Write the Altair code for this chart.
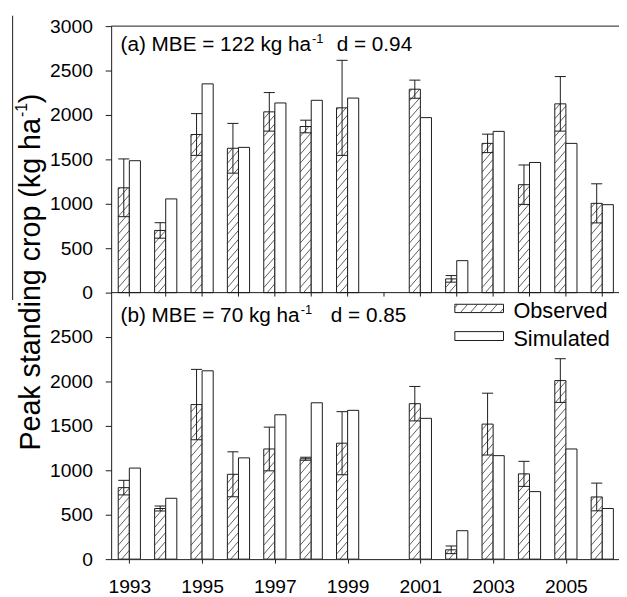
import altair as alt
import pandas as pd
import numpy as np

# ---------------- data ----------------
years = [1993, 1994, 1995, 1996, 1997, 1998, 1999, 2001, 2002, 2003, 2004, 2005, 2006]

obs_a = [1180, 700, 1780, 1625, 2035, 1870, 2080, 2290, 155, 1680, 1215, 2125, 1005]
sd_a = [325, 87, 235, 280, 217, 71, 535, 102, 37, 104, 222, 307, 220]
sim_a = [1485, 1055, 2350, 1635, 2135, 2165, 2190, 1970, 360, 1815, 1465, 1680, 990]

obs_b = [805, 570, 1740, 955, 1240, 1130, 1305, 1750, 105, 1520, 960, 2010, 700]
sd_b = [82, 28, 396, 253, 246, 17, 355, 194, 43, 348, 141, 246, 156]
sim_b = [1025, 685, 2120, 1140, 1625, 1760, 1675, 1585, 320, 1165, 760, 1240, 570]

tick_years = list(range(1993, 2007))
y_ticks = list(range(0, 6001, 500))

# ---------------- layout ----------------
FONT = "Liberation Sans"
X0, X1 = 1992.5, 2006.46
W, H = 514.5, 540
Y_MAX = 6000
OFFSET = 3000          # panel (a) is stacked on top of panel (b)
BAR_W = 0.305
PPY = W / (X1 - X0)    # px per year
PPU = H / Y_MAX        # px per kg/ha

xscale = alt.Scale(domain=[X0, X1], nice=False, zero=False)
yscale = alt.Scale(domain=[0, Y_MAX], nice=False, zero=False)

rows = []
for base, obs, sd, sim in [(OFFSET, obs_a, sd_a, sim_a), (0, obs_b, sd_b, sim_b)]:
    for yr, o, s, m in zip(years, obs, sd, sim):
        rows.append(dict(year=yr, base=base, obs=base + o, lo=base + o - s,
                         hi=base + o + s, sim=base + m,
                         ox0=yr - BAR_W, ox1=yr, sx0=yr, sx1=yr + BAR_W,
                         cx=yr - BAR_W / 2))
df = pd.DataFrame(rows)

# hatch segments for the observed bars
SP, SL = 9.0, 1.15
hatch = []
for r in rows:
    w = (r["ox1"] - r["ox0"]) * PPY
    h = (r["obs"] - r["base"]) * PPU
    c = -SL * w
    while c < h:
        u0 = max(0.0, -c / SL)
        u1 = min(w, (h - c) / SL)
        if u1 - u0 > 0.3:
            hatch.append(dict(hx0=r["ox0"] + u0 / PPY, hx1=r["ox0"] + u1 / PPY,
                              hy0=r["base"] + (c + SL * u0) / PPU,
                              hy1=r["base"] + (c + SL * u1) / PPU))
        c += SP
hatch_df = pd.DataFrame(hatch)

caps = pd.concat([df[["ox0", "ox1"]].assign(cy=df["lo"]),
                  df[["ox0", "ox1"]].assign(cy=df["hi"])])

INK = "#1a1a1a"

xaxis = alt.Axis(values=tick_years, format="d",
                 labelExpr="datum.value % 2 == 1 ? datum.label : ''",
                 tickSize=4, labelPadding=15, labelFontSize=19.5, labelFont=FONT,
                 labelColor="black", domainColor=INK, tickColor=INK,
                 labelOverlap=False, labelFlush=False, grid=False, title=None)
yaxis = alt.Axis(values=y_ticks, format="d",
                 labelExpr="datum.value >= 3000 ? datum.value - 3000 : datum.value",
                 tickSize=6, labelPadding=13, labelFontSize=19.5, labelFont=FONT,
                 labelColor="black", domainColor=INK, tickColor=INK,
                 labelOverlap=False, labelFlush=False, grid=False, title=None)

obs_bars = alt.Chart(df).mark_rect(fill="white", stroke=INK, strokeWidth=1).encode(
    x=alt.X("ox0:Q", scale=xscale, axis=xaxis), x2="ox1",
    y=alt.Y("base:Q", scale=yscale, axis=yaxis), y2="obs")
hatch_lines = alt.Chart(hatch_df).mark_rule(color="#333", strokeWidth=0.8).encode(
    x="hx0:Q", x2="hx1", y="hy0:Q", y2="hy1")
sim_bars = alt.Chart(df).mark_rect(fill="white", stroke=INK, strokeWidth=1).encode(
    x="sx0:Q", x2="sx1", y="base:Q", y2="sim")
err = alt.Chart(df).mark_rule(color=INK, strokeWidth=1).encode(
    x="cx:Q", y="lo:Q", y2="hi")
cap = alt.Chart(caps).mark_rule(color=INK, strokeWidth=1).encode(
    x="ox0:Q", x2="ox1", y="cy:Q")

frame = alt.Chart(pd.DataFrame({"fy": [OFFSET, Y_MAX]})).mark_rule(
    color=INK, strokeWidth=1).encode(x=alt.value(0), x2=alt.value(W), y="fy:Q")
mid_ticks = alt.Chart(pd.DataFrame({"ty": tick_years, "t0": OFFSET,
                                    "t1": OFFSET - 4 / PPU})).mark_rule(
    color=INK, strokeWidth=1).encode(x="ty:Q", y="t0:Q", y2="t1")


def txt(s, x, y, size, **kw):
    return alt.Chart(pd.DataFrame({"t": [s]})).mark_text(
        font=FONT, fontSize=size, color="black", align="left",
        baseline="alphabetic", **kw).encode(
        x=alt.value(x), y=alt.value(y), text="t:N")


texts = [
    txt("(a) MBE = 122 kg ha", 9.5, 25.5, 21),
    txt("-1", 203.5, 17.5, 13),
    txt("d = 0.94", 228.5, 25.5, 21),
    txt("(b) MBE = 70 kg ha", 9.5, 299.5, 21),
    txt("-1", 192, 291.5, 13),
    txt("d = 0.85", 222.5, 299.5, 21),
    txt("Observed", 407.5, 296, 22),
    txt("Simulated", 407.5, 324.5, 22),
]

# y-axis title (rotated, with superscript)
TFS = 29
T_START = 430
main_w = 11.617 * TFS
texts += [
    txt("Peak standing crop (kg ha", -72.5, T_START, TFS, angle=270),
    txt("-1", -85, T_START - main_w - 1, 16, angle=270),
    txt(")", -72.5, T_START - main_w - 15, TFS, angle=270),
]

# legend swatches
swatches = []
for (yt, yb) in [(281.8, 290.2), (309.5, 318.5)]:
    swatches.append(alt.Chart(pd.DataFrame({"d": [0]})).mark_rect(
        fill="white", stroke=INK, strokeWidth=1).encode(
        x=alt.value(348.2), x2=alt.value(397.5), y=alt.value(yt), y2=alt.value(yb)))
lx0, lx1, lyt, lyb = 348.2, 397.5, 281.8, 290.2
lw, lh = lx1 - lx0, lyb - lyt
a = -lh / SL + 3
while a < lw:
    u0, u1 = max(0.0, a), min(lw, a + lh / SL)
    if u1 - u0 > 0.3:
        swatches.append(alt.Chart(pd.DataFrame({"d": [0]})).mark_rule(
            color="#333", strokeWidth=0.8).encode(
            x=alt.value(lx0 + u0), x2=alt.value(lx0 + u1),
            y=alt.value(lyb - SL * (u0 - a)), y2=alt.value(lyb - SL * (u1 - a))))
    a += 10

artifact = alt.Chart(pd.DataFrame({"d": [0]})).mark_rule(
    color=INK, strokeWidth=1).encode(
    x=alt.value(-99.8), y=alt.value(-10.5), y2=alt.value(277.5))

chart = alt.layer(obs_bars, hatch_lines, sim_bars, err, cap, frame, mid_ticks,
                  artifact, *swatches, *texts).properties(
    width=W, height=H,
    autosize=alt.AutoSizeParams(type="none"),
    padding={"left": 104.5, "top": 14.5, "right": 0, "bottom": 34.5},
).configure_view(stroke=None)

chart.save("out.html", embed_options={"renderer": "svg", "actions": False})
